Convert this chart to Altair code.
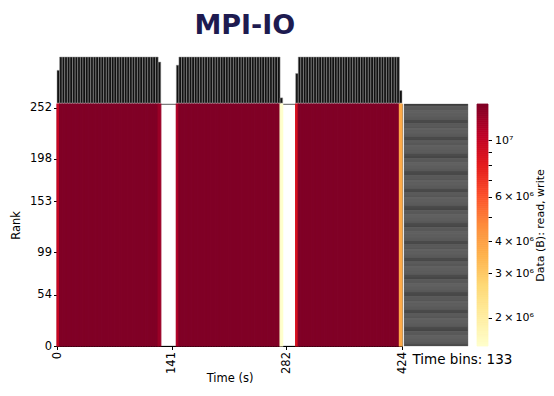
import altair as alt
import pandas as pd
import numpy as np

# ---------------- data ----------------
T_MAX = 424          # seconds
N_BINS = 133         # time bins
N_RANKS = 256        # ranks
VMIN = 1.55e6        # colour-bar range (bytes)
VMAX = 1.387e7
FULL = 1.387e7

# bytes per rank in each time bin (None = no I/O in that bin)
bin_values = (
    [9.85e6] + [FULL] * 38 + [1.235e7]          # bins 0-39
    + [None] * 6                                 # bins 40-45
    + [1.14e7] + [FULL] * 39 + [1.55e6]          # bins 46-86
    + [None] * 5                                 # bins 87-91
    + [8.9e6] + [FULL] * 39 + [3.75e6]           # bins 92-132
)

x_ticks = [0, 141, 282, 424]
y_ticks = [0, 54, 99, 153, 198, 252]
cbar_ticks = [2e6, 3e6, 4e6, 5e6, 6e6, 7e6, 8e6, 9e6, 1e7]

# matplotlib "YlOrRd" colour map
YLORRD = ["#ffffcc", "#ffeda0", "#fed976", "#feb24c", "#fd8d3c",
          "#fc4e2a", "#e31a1c", "#bd0026", "#800026"]

# ---------------- tables ----------------
bw = T_MAX / N_BINS
heat_rows = []
for i, v in enumerate(bin_values):
    if v is None:
        continue
    heat_rows.append({"t0": i * bw, "t1": (i + 1) * bw, "r0": 0, "r1": N_RANKS,
                      "value": v, "hist": v * N_RANKS})
heat_df = pd.DataFrame(heat_rows)

rank_total = sum(v for v in bin_values if v is not None)
rank_df = pd.DataFrame({"r0": list(range(N_RANKS)),
                        "r1": [r + 1 for r in range(N_RANKS)],
                        "x0": [0] * N_RANKS,
                        "total": [rank_total] * N_RANKS})

cb_edges = np.geomspace(VMIN, VMAX, 121)
cb_df = pd.DataFrame({"lo": cb_edges[:-1], "hi": cb_edges[1:],
                      "value": np.sqrt(cb_edges[:-1] * cb_edges[1:])})

# ---------------- styling ----------------
FONT = "DejaVu Sans"
FS = 11.5
cmap_domain = list(np.geomspace(VMIN, VMAX, len(YLORRD)))
color_scale = alt.Scale(type="log", domain=cmap_domain, range=YLORRD,
                        interpolate="rgb", clamp=True)
x_scale = alt.Scale(domain=[0, T_MAX], nice=False, zero=False)
rank_scale = alt.Scale(domain=[0, N_RANKS], nice=False, zero=False)

W, H = 345, 242

top = alt.Chart(heat_df).mark_rect(fill="#111111", stroke="#9a9a9a", strokeWidth=0.5).encode(
    x=alt.X("t0:Q", scale=x_scale, axis=None),
    x2="t1:Q",
    y=alt.Y("hist:Q", scale=alt.Scale(domain=[0, VMAX * N_RANKS], nice=False), axis=None),
    y2=alt.datum(0),
).properties(width=W, height=46)

heat = alt.Chart(heat_df, view=alt.ViewBackground(stroke="#333333", strokeWidth=0.8)).mark_rect(
    strokeWidth=1.2).encode(
    x=alt.X("t0:Q", scale=x_scale,
            axis=alt.Axis(values=x_ticks, labelAngle=270, title="Time (s)", grid=False,
                          tickSize=3.5, titleY=26)),
    x2="t1:Q",
    y=alt.Y("r0:Q", scale=rank_scale,
            axis=alt.Axis(values=y_ticks, title="Rank", grid=False, tickSize=3.5, titlePadding=8)),
    y2="r1:Q",
    color=alt.Color("value:Q", scale=color_scale, legend=None),
    stroke=alt.Stroke("value:Q", scale=color_scale, legend=None),
).properties(width=W, height=H)

ranks = alt.Chart(rank_df).mark_rect(fill="#141414", stroke="#808080", strokeWidth=0.4).encode(
    x=alt.X("x0:Q", scale=alt.Scale(domain=[0, rank_total], nice=False),
            axis=alt.Axis(labels=False, ticks=False, domain=False, grid=False,
                          title="Time bins: 133", titleAnchor="start", titleAlign="left",
                          titleX=8, titleY=6, titleFontSize=13.5)),
    x2="total:Q",
    y=alt.Y("r0:Q", scale=rank_scale, axis=None),
    y2="r1:Q",
).properties(width=64, height=H)

TS = "\u2009"  # thin space
label_expr = ("datum.value > 9.9e6 ? '10⁷' : abs(datum.value - 2e6) < 1 ? '2{t}×{t}10⁶' : "
              "abs(datum.value - 3e6) < 1 ? '3{t}×{t}10⁶' : abs(datum.value - 4e6) < 1 ? '4{t}×{t}10⁶' : "
              "abs(datum.value - 6e6) < 1 ? '6{t}×{t}10⁶' : ''").format(t=TS)

cbar = alt.Chart(cb_df).mark_rect(strokeWidth=0.8).encode(
    y=alt.Y("lo:Q", scale=alt.Scale(type="log", domain=[VMIN, VMAX], nice=False),
            axis=alt.Axis(orient="right", values=cbar_ticks, labelExpr=label_expr,
                          labelPadding=3, labelFontSize=11,
                          title="Data (B): read, write", titleAngle=270, titleBaseline="top",
                          titleFontSize=11, titlePadding=1, tickSize=3.5, grid=False, domain=False)),
    y2="hi:Q",
    color=alt.Color("value:Q", scale=color_scale, legend=None),
    stroke=alt.Stroke("value:Q", scale=color_scale, legend=None),
).properties(width=11, height=H)

right = alt.hconcat(ranks, cbar, spacing=9, bounds="flush")
bottom = alt.hconcat(heat, right, spacing=2, bounds="flush")

chart = alt.vconcat(top, bottom, spacing=1, bounds="flush").properties(
    title=alt.TitleParams("MPI-IO", font="DejaVu Sans", fontSize=27, fontWeight="bold",
                          color="#1e1b50", anchor="middle", offset=17, dx=-33),
    padding={"left": 2, "top": 3, "right": 0, "bottom": 0},
).configure_view(stroke=None).configure_axis(
    labelFont=FONT, titleFont=FONT, labelFontSize=FS, titleFontSize=FS,
    labelColor="black", titleColor="black", tickColor="black", domainColor="black",
    titleFontWeight="normal",
).configure_concat(spacing=0)

chart.save("out.html", embed_options={"renderer": "svg", "actions": False})
